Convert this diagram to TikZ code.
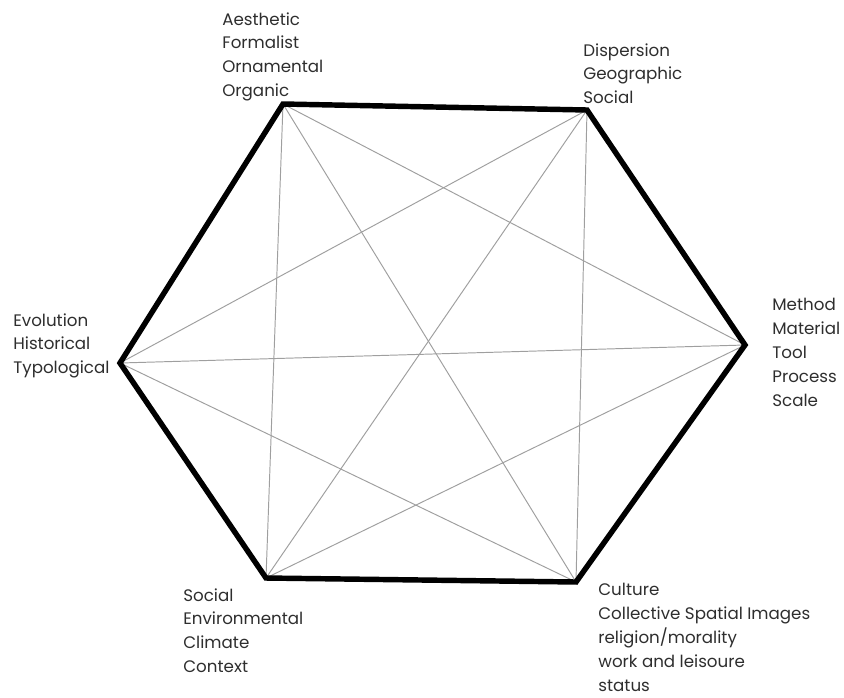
\documentclass[tikz,border=0pt]{standalone}
\usepackage{fontspec}
\setmainfont{Poppins}
\definecolor{labelgray}{HTML}{2E2E2E}

\begin{document}
\begin{tikzpicture}[x=0.02cm, y=-0.02cm,
    rim/.style={line width=3.1pt, line join=miter},
    chord/.style={gray!75, line width=0.55pt},
    lbl/.style={anchor=north west, inner sep=0pt, align=left, text=labelgray,
                font=\fontsize{9.5}{13.6}\selectfont}]
            \useasboundingbox (0,0) rectangle (844,697);

            % corners of the hexagon
            \coordinate (aes) at (283,104);
            \coordinate (dis) at (587,110);
            \coordinate (met) at (745,345);
            \coordinate (cul) at (576,582);
            \coordinate (soc) at (266,578);
            \coordinate (evo) at (120,363);

            % chords between opposite and skipped corners
            \draw[chord] (aes) -- (met);
            \draw[chord] (aes) -- (cul);
            \draw[chord] (aes) -- (soc);
            \draw[chord] (dis) -- (cul);
            \draw[chord] (dis) -- (soc);
            \draw[chord] (dis) -- (evo);
            \draw[chord] (met) -- (soc);
            \draw[chord] (met) -- (evo);
            \draw[chord] (cul) -- (evo);

            % outer rim
            \draw[rim] (aes) -- (dis) -- (met) -- (cul) -- (soc) -- (evo) -- cycle;

            % labels
            \node[lbl] (aesl) at (222,12) {Aesthetic\\Formalist\\Ornamental\\Organic};
            \node[lbl] (disl) at (583,43) {Dispersion\\Geographic\\Social};
            \node[lbl] (metl) at (772,298) {Method\\Material\\Tool\\Process\\Scale};
            \node[lbl] (cull) at (598,583) {Culture\\Collective Spatial Images\\religion/morality\\work and leisoure\\status};
            \node[lbl] (socl) at (183,588) {Social\\Environmental\\Climate\\Context};
            \node[lbl] (evol) at (13,313) {Evolution\\Historical\\Typological};
        \end{tikzpicture}
\end{document}
